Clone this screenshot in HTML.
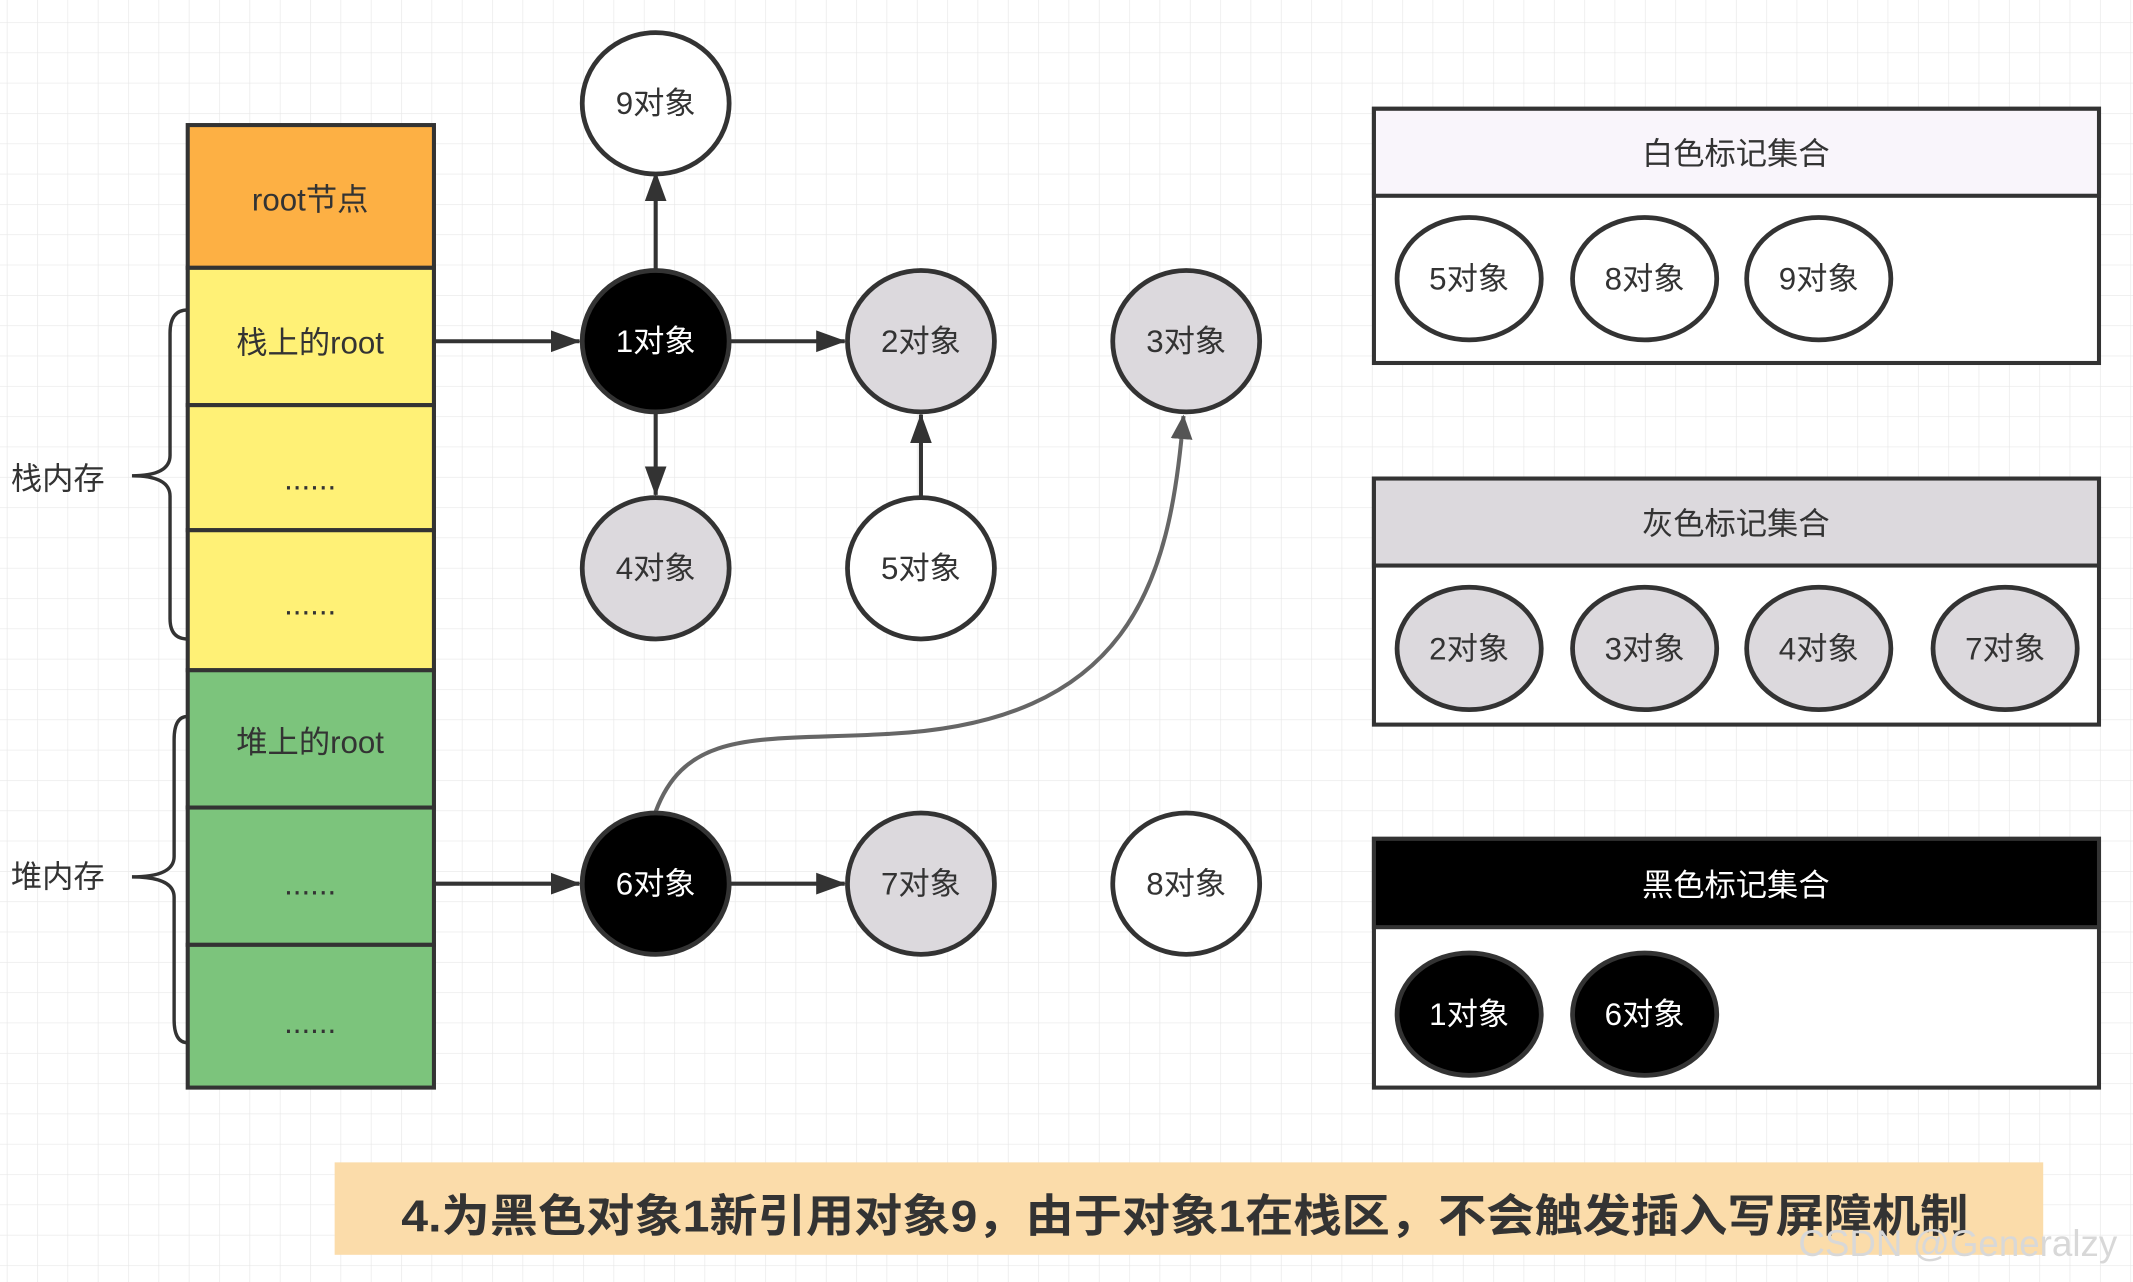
<!DOCTYPE html>
<html><head><meta charset="utf-8"><style>
html,body{margin:0;padding:0;background:#fff}
svg{display:block}
text{font-family:"Liberation Sans","Noto Sans CJK SC",sans-serif;fill:#333}
</style></head><body>
<svg width="2133" height="1282" viewBox="0 0 1568 943" preserveAspectRatio="none" xmlns="http://www.w3.org/2000/svg">
<defs>
<pattern id="g" width="22.3" height="22.3" patternUnits="userSpaceOnUse" x="5" y="-6">
<path d="M0 0V22.3M0 0H22.3" stroke="#e8e8e8" stroke-width="1" fill="none"/>
</pattern>
<marker id="a" markerWidth="22" markerHeight="18" refX="21" refY="9" orient="auto" markerUnits="userSpaceOnUse"><path d="M0,1 L22,9 L0,17 Z" fill="#333"/></marker>
<marker id="a2" markerWidth="18" markerHeight="18" refX="17" refY="9" orient="auto" markerUnits="userSpaceOnUse"><path d="M0,1 L18,9 L0,17 Z" fill="#555"/></marker>
</defs>
<rect width="1568" height="943" fill="#fff"/>
<rect width="1568" height="943" fill="url(#g)"/>
<g stroke="#333" stroke-width="3">
<rect x="138" y="92" width="181" height="105" fill="#fdb044"/>
<rect x="138" y="197" width="181" height="101" fill="#fff176"/>
<rect x="138" y="298" width="181" height="92" fill="#fff176"/>
<rect x="138" y="390" width="181" height="103" fill="#fff176"/>
<rect x="138" y="493" width="181" height="101" fill="#7cc47c"/>
<rect x="138" y="594" width="181" height="101" fill="#7cc47c"/>
<rect x="138" y="695" width="181" height="105" fill="#7cc47c"/>
</g>
<g font-size="23" text-anchor="middle">
<text x="228" y="155">root节点</text>
<text x="228" y="260">栈上的root</text>
<text x="228" y="360">......</text>
<text x="228" y="452">......</text>
<text x="228" y="554">堆上的root</text>
<text x="228" y="658">......</text>
<text x="228" y="760">......</text>
</g>
<g fill="none" stroke="#333" stroke-width="2.5">
<path d="M138,228 Q125,228 125,245 L125,335 Q125,350 97,350 Q125,350 125,365 L125,455 Q125,470 138,470"/>
<path d="M138,527 Q128,527 128,544 L128,630 Q128,645 97,645 Q128,645 128,660 L128,750 Q128,767 138,767"/>
</g>
<text x="8" y="360" font-size="23">栈内存</text>
<text x="8" y="653" font-size="23">堆内存</text>
<g stroke="#333" stroke-width="3" fill="none">
<line x1="319" y1="251" x2="426" y2="251" marker-end="url(#a)"/>
<line x1="536" y1="251" x2="621" y2="251" marker-end="url(#a)"/>
<line x1="482" y1="198" x2="482" y2="127" marker-end="url(#a)"/>
<line x1="482" y1="304" x2="482" y2="364" marker-end="url(#a)"/>
<line x1="677" y1="365" x2="677" y2="305" marker-end="url(#a)"/>
<line x1="319" y1="650" x2="426" y2="650" marker-end="url(#a)"/>
<line x1="536" y1="650" x2="621" y2="650" marker-end="url(#a)"/>
</g>
<path d="M482,597 C505,535 560,545 650,540 C830,532 860,430 870,306" fill="none" stroke="#666" stroke-width="3" marker-end="url(#a2)"/>
<g stroke="#333" stroke-width="3.5">
<ellipse cx="482" cy="76" rx="54" ry="52" fill="#fff"/>
<ellipse cx="482" cy="251" rx="54" ry="52" fill="#000"/>
<ellipse cx="677" cy="251" rx="54" ry="52" fill="#dcd9dd"/>
<ellipse cx="872" cy="251" rx="54" ry="52" fill="#dcd9dd"/>
<ellipse cx="482" cy="418" rx="54" ry="52" fill="#dcd9dd"/>
<ellipse cx="677" cy="418" rx="54" ry="52" fill="#fff"/>
<ellipse cx="482" cy="650" rx="54" ry="52" fill="#000"/>
<ellipse cx="677" cy="650" rx="54" ry="52" fill="#dcd9dd"/>
<ellipse cx="872" cy="650" rx="54" ry="52" fill="#fff"/>
</g>
<g font-size="23" text-anchor="middle">
<text x="482" y="84">9对象</text>
<text x="482" y="259" style="fill:#fff">1对象</text>
<text x="677" y="259">2对象</text>
<text x="872" y="259">3对象</text>
<text x="482" y="426">4对象</text>
<text x="677" y="426">5对象</text>
<text x="482" y="658" style="fill:#fff">6对象</text>
<text x="677" y="658">7对象</text>
<text x="872" y="658">8对象</text>
</g>
<g stroke="#333" stroke-width="3">
<rect x="1010" y="80" width="533" height="187" fill="#fff"/>
<rect x="1010" y="80" width="533" height="64" fill="#f9f5fb"/>
<rect x="1010" y="352" width="533" height="181" fill="#fff"/>
<rect x="1010" y="352" width="533" height="64" fill="#dcd9dd"/>
<rect x="1010" y="617" width="533" height="183" fill="#fff"/>
<rect x="1010" y="617" width="533" height="65" fill="#000"/>
</g>
<g stroke="#333" stroke-width="3.5">
<ellipse cx="1080" cy="205" rx="53" ry="45" fill="#fff"/>
<ellipse cx="1209" cy="205" rx="53" ry="45" fill="#fff"/>
<ellipse cx="1337" cy="205" rx="53" ry="45" fill="#fff"/>
<ellipse cx="1080" cy="477" rx="53" ry="45" fill="#dcd9dd"/>
<ellipse cx="1209" cy="477" rx="53" ry="45" fill="#dcd9dd"/>
<ellipse cx="1337" cy="477" rx="53" ry="45" fill="#dcd9dd"/>
<ellipse cx="1474" cy="477" rx="53" ry="45" fill="#dcd9dd"/>
<ellipse cx="1080" cy="746" rx="53" ry="45" fill="#000"/>
<ellipse cx="1209" cy="746" rx="53" ry="45" fill="#000"/>
</g>
<g font-size="23" text-anchor="middle">
<text x="1276" y="121">白色标记集合</text>
<text x="1276" y="393">灰色标记集合</text>
<text x="1276" y="659" style="fill:#fff">黑色标记集合</text>
<text x="1080" y="213">5对象</text>
<text x="1209" y="213">8对象</text>
<text x="1337" y="213">9对象</text>
<text x="1080" y="485">2对象</text>
<text x="1209" y="485">3对象</text>
<text x="1337" y="485">4对象</text>
<text x="1474" y="485">7对象</text>
<text x="1080" y="754" style="fill:#fff">1对象</text>
<text x="1209" y="754" style="fill:#fff">6对象</text>
</g>
<rect x="246" y="855" width="1256" height="68" fill="#fbdcaa"/>
<text x="871" y="906" font-size="33" font-weight="bold" text-anchor="middle" textLength="1152" lengthAdjust="spacingAndGlyphs">4.为黑色对象1新引用对象9，由于对象1在栈区，不会触发插入写屏障机制</text>
<text x="1322" y="924" font-size="27" style="fill:#d8d8d8">CSDN @Generalzy</text>
</svg>
</body></html>
